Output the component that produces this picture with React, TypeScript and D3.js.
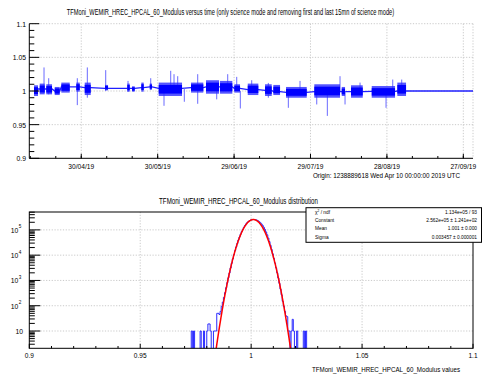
import React, { useLayoutEffect, useRef, useState } from "react";
import * as d3 from "d3";

const ORIGIN = Date.UTC(2019, 3, 10);
const DAY = 86400000;

// ---- Top graph: modulus versus time (days since origin) ----
const clusterStart = [1.45, 3.69, 6.28, 9.58, 12.17, 18.06, 21.36, 29.33, 38.08, 39.93, 43.58, 46.88, 50.41, 63.09, 68.98, 74.48, 80.09, 85.36, 92.15, 95.41, 100.39, 111.5, 122.26, 125.91, 134.04, 144.09];
const clusterEnd = [3.02, 5.65, 8.52, 11.54, 15.47, 19.4, 23.71, 30.51, 39.03, 40.99, 44.52, 47.78, 59.56, 67.92, 74.09, 79.31, 82.33, 89.52, 94.78, 98.04, 108.52, 121.59, 123.56, 130.51, 143.19, 147.51];
const clusterLow = [0.9926, 0.995, 0.995, 0.994, 0.9976, 0.999, 0.994, 1.001, 0.999, 0.999, 0.999, 1.002, 0.9926, 0.9976, 0.996, 0.996, 0.9976, 0.994, 0.9926, 0.994, 0.99, 0.99, 0.9926, 0.99, 0.99, 0.9926];
const clusterHigh = [1.0085, 1.011, 1.01, 1.006, 1.0125, 1.0125, 1.0125, 1.009, 1.011, 1.007, 1.0125, 1.011, 1.0125, 1.0125, 1.016, 1.015, 1.01, 1.011, 1.01, 1.009, 1.006, 1.01, 1.006, 1.0085, 1.0074, 1.0125];
const clusterLevel = [1.003, 1.003, 1.003, 1.0, 1.006, 1.006, 1.005, 1.004, 1.004, 1.004, 1.005, 1.006, 1.004, 1.005, 1.006, 1.006, 1.004, 1.002, 1.001, 0.999, 0.998, 0.999, 0.999, 0.999, 0.9995, 1.0];
const graphEndDay = 173.8;
const graphEndLevel = 1.0;

const spikeDay = [5.38, 7.22, 18.45, 22.38, 29.6, 38.36, 47.27, 52.49, 55.12, 56.42, 57.87, 60.46, 65.72, 73.18, 77.5, 81.04, 82.45, 86.92, 93.44, 101.3, 105.89, 112.45, 116.61, 121.59, 123.56, 129.45, 139.66, 142.29, 145.82];
const spikeLow = [0.997, 0.995, 0.979, 0.99, 1.0, 0.999, 1.002, 0.978, 1.0, 1.0, 1.0, 0.984, 0.981, 0.9876, 1.0, 1.0, 0.974, 1.0, 0.99, 0.975, 0.998, 0.98, 0.963, 1.0, 0.98, 1.0, 0.975, 1.0, 1.0];
const spikeHigh = [1.035, 1.019, 1.019, 1.035, 1.031, 1.015, 1.019, 1.004, 1.03, 1.025, 1.022, 1.004, 1.025, 1.005, 1.025, 1.021, 1.0, 1.016, 1.012, 1.0, 1.015, 1.0, 1.0, 1.022, 1.0, 1.0125, 1.0, 1.017, 1.017];

const timeMajorDates = ["2019-04-30", "2019-05-30", "2019-06-29", "2019-07-29", "2019-08-28", "2019-09-27"];
const topYTicks = [0.9, 0.95, 1, 1.05, 1.1];
const topYLabels = ["0.9", "0.95", "1", "1.05", "1.1"];

// ---- Bottom histogram ----
const histStart = 0.9725;
const histBinWidth = 0.0005;
const histCounts = [
  0, 10, 0, 10, 0, 0, 0, 0, 0, 10,
  0, 0, 10, 0, 0, 10, 19, 19, 10, 0,
  0, 10, 10, 10, 50, 50, 45, 60, 95, 140,
  215, 330, 520, 820, 1280, 1980, 3100, 4750, 7100, 10400,
  15000, 21000, 29000, 39500, 52000, 67000, 85000, 105000, 127000, 150000,
  173000, 195000, 214000, 231000, 243000, 252000, 256500, 257500, 255000, 249000,
  239000, 225000, 208000, 189000, 169000, 148000, 126000, 104000, 83000, 64000,
  47500, 34500, 24500, 16800, 11300, 7500, 4900, 3150, 2000, 1250,
  770, 455, 270, 150, 95, 60, 40, 37, 10, 10,
  0, 10, 29, 10, 0, 0, 10, 0, 0, 0,
  0, 0, 10, 0, 10,
];
const fitConstant = 2.562e5;
const fitMean = 1.001;
const fitSigma = 0.003457;

const histXTicks = [0.9, 0.95, 1, 1.05, 1.1];
const histXLabels = ["0.9", "0.95", "1", "1.05", "1.1"];
const histYDecades = [10, 100, 1000, 10000, 100000];
const histYExponents = ["", "2", "3", "4", "5"];

const statLabels = ["χ", "Constant", "Mean", "Sigma"];
const statValues = ["1.134e+05 / 93", "2.562e+05  ± 1.241e+02", "1.001 ± 0.000", "0.003457  ± 0.000001"];

const topTitle = "TFMoni_WEMIR_HREC_HPCAL_60_Modulus versus time (only science mode and removing first and last 15mn of science mode)";
const originText = "Origin: 1238889618  Wed Apr 10 00:00:00 2019 UTC";
const bottomTitle = "TFMoni_WEMIR_HREC_HPCAL_60_Modulus distribution";
const xAxisTitle = "TFMoni_WEMIR_HREC_HPCAL_60_Modulus values";

const FONT = "'Liberation Sans', Arial, Helvetica, sans-serif";
const GRID = "#bdbdbd";

function T({ x, y, s = 8, sx = 0.83, anchor = "middle", children, fill = "#000" }: any) {
  return (
    <text transform={`translate(${x},${y}) scale(${sx},1)`} fontSize={s} textAnchor={anchor} fontFamily={FONT} fill={fill}>
      {children}
    </text>
  );
}

// text squeezed horizontally to a target width
function FitText({ x, y, s, width, anchor, children }: any) {
  const ref = useRef<SVGTextElement>(null);
  const [sx, setSx] = useState(0.7);
  useLayoutEffect(() => {
    if (ref.current) {
      const w = ref.current.getComputedTextLength();
      if (w > 0) setSx(width / w);
    }
  }, [width, children]);
  return (
    <text ref={ref} transform={`translate(${x},${y}) scale(${sx},1)`} fontSize={s} textAnchor={anchor} fontFamily={FONT} fill="#000">
      {children}
    </text>
  );
}

export default function App() {
  const L = 29.3, R = 473;
  const tTop = 23.7, tBot = 158.3;
  const bTop = 212, bBot = 348.3;

  const dd = (d: number) => new Date(ORIGIN + d * DAY);
  const xT = d3.scaleUtc().domain([dd(-0.4), dd(173.8)]).range([L, R]);
  const yT = d3.scaleLinear().domain([0.9, 1.1]).range([tBot, tTop]);
  const fmt = d3.utcFormat("%d/%m/%y");

  const xH = d3.scaleLinear().domain([0.9, 1.1]).range([L, R]);
  const yH = d3.scaleLog().domain([2.07, 5.1e5]).range([bBot, bTop]);

  const basePts: [number, number][] = [];
  clusterStart.forEach((s, i) => {
    basePts.push([s, clusterLevel[i]]);
    basePts.push([clusterEnd[i], clusterLevel[i]]);
  });
  basePts.push([graphEndDay, graphEndLevel]);
  const baseLine = d3.line<[number, number]>().x((p) => xT(dd(p[0]))).y((p) => yT(p[1]))(basePts) || "";

  const minorDays = d3.range(0, 174, 10);
  const majorDates = timeMajorDates.map((s) => new Date(s + "T00:00:00Z"));
  const yMinorTop = d3.range(0.9, 1.1001, 0.01);

  const yClamp = (c: number) => (c < 2.07 ? bBot + 2 : yH(c));
  let hp = `M${xH(histStart)},${bBot + 2}`;
  histCounts.forEach((c, i) => {
    const e0 = histStart + i * histBinWidth;
    hp += `V${yClamp(c)}H${xH(e0 + histBinWidth)}`;
  });
  hp += `V${bBot + 2}`;

  const gauss = (v: number) => fitConstant * Math.exp(-((v - fitMean) ** 2) / (2 * fitSigma * fitSigma));
  const half = fitSigma * Math.sqrt(2 * Math.log(fitConstant / 2.07));
  const fitXs = d3.range(0, 301).map((k) => fitMean - half + (2 * half * k) / 300);
  const fitPath = d3.line<number>().x((v) => xH(v)).y((v) => yH(Math.max(2.07, gauss(v))))(fitXs) || "";

  const logMinor: number[] = [];
  for (let p = 0; p <= 5; p++) for (let m = 1; m <= 9; m++) {
    const v = m * Math.pow(10, p);
    if (v >= 2.07 && v <= 5.1e5) logMinor.push(v);
  }
  const histXMinor = d3.range(0.9, 1.1001, 0.01);
  const statY = [213.8, 222.1, 230.4, 238.8];

  return (
    <svg width={482} height={374} style={{ position: "absolute", left: 0, top: 0, background: "#fff" }} xmlns="http://www.w3.org/2000/svg">
      <rect x={0} y={0} width={482} height={374} fill="#fff" />
      <defs>
        <clipPath id="clipTop"><rect x={L} y={tTop} width={R - L} height={tBot - tTop} /></clipPath>
        <clipPath id="clipBot"><rect x={L} y={bTop} width={R - L} height={bBot - bTop} /></clipPath>
      </defs>

      {/* ===== TOP PLOT ===== */}
      <FitText x={230.5} y={15} s={8.3} width={327} anchor="middle">{topTitle}</FitText>
      {majorDates.map((d, i) => (
        <line key={"vg" + i} x1={xT(d)} x2={xT(d)} y1={tTop} y2={tBot} stroke={GRID} strokeWidth={0.8} strokeDasharray="1.2,1.6" />
      ))}
      <line x1={R} x2={R} y1={tTop} y2={tBot} stroke={GRID} strokeWidth={0.8} strokeDasharray="1.2,1.6" />
      {topYTicks.slice(1).map((v, i) => (
        <line key={"hg" + i} x1={L} x2={R} y1={yT(v)} y2={yT(v)} stroke={GRID} strokeWidth={0.8} strokeDasharray="1.2,1.6" />
      ))}
      <g clipPath="url(#clipTop)">
        <path d={baseLine} fill="none" stroke="#2020ff" strokeWidth={1.3} />
        {spikeDay.map((d, i) => (
          <line key={"sp" + i} x1={xT(dd(d))} x2={xT(dd(d))} y1={yT(spikeLow[i])} y2={yT(spikeHigh[i])} stroke="#6a6aff" strokeWidth={1} />
        ))}
        {clusterStart.map((s, i) => {
          const xa = xT(dd(s)), xb = xT(dd(clusterEnd[i]));
          const lo = clusterLow[i], hi = clusterHigh[i];
          const span = hi - lo;
          return (
            <g key={"cl" + i}>
              <rect x={xa} y={yT(hi)} width={Math.max(1, xb - xa)} height={yT(lo) - yT(hi)} fill="#2a2aff" opacity={0.8} />
              <rect x={xa} y={yT(hi - span * 0.18)} width={Math.max(1, xb - xa)} height={yT(lo + span * 0.18) - yT(hi - span * 0.18)} fill="#0000ff" />
            </g>
          );
        })}
      </g>
      <line x1={L} x2={L} y1={tTop} y2={tBot} stroke="#000" strokeWidth={1} />
      <line x1={L} x2={R} y1={tBot} y2={tBot} stroke="#000" strokeWidth={1} />
      {yMinorTop.map((v, i) => {
        const major = i % 5 === 0;
        return <line key={"yt" + i} x1={L} x2={L + (major ? 10 : 5)} y1={yT(v)} y2={yT(v)} stroke="#000" strokeWidth={1} />;
      })}
      {topYTicks.map((v, i) => (
        <T key={"yl" + i} x={26} y={yT(v) + 2.9} anchor="end" sx={0.85}>{topYLabels[i]}</T>
      ))}
      {minorDays.map((d) => (
        <line key={"xm" + d} x1={xT(dd(d))} x2={xT(dd(d))} y1={tBot} y2={tBot - 2.3} stroke="#000" strokeWidth={1} />
      ))}
      {majorDates.map((d, i) => (
        <g key={"xM" + i}>
          <line x1={xT(d)} x2={xT(d)} y1={tBot} y2={tBot - 4.5} stroke="#000" strokeWidth={1} />
          <T x={xT(d)} y={168.5}>{fmt(d)}</T>
        </g>
      ))}
      <FitText x={460} y={178} s={8} width={147} anchor="end">{originText}</FitText>

      {/* ===== BOTTOM PLOT ===== */}
      <FitText x={238.5} y={203.5} s={8.3} width={159} anchor="middle">{bottomTitle}</FitText>
      {histXTicks.slice(1, -1).map((v, i) => (
        <line key={"bvg" + i} x1={xH(v)} x2={xH(v)} y1={bTop} y2={bBot} stroke={GRID} strokeWidth={0.8} strokeDasharray="1.2,1.6" />
      ))}
      {histYDecades.map((v, i) => (
        <line key={"bhg" + i} x1={L} x2={R} y1={yH(v)} y2={yH(v)} stroke={GRID} strokeWidth={0.8} strokeDasharray="1.2,1.6" />
      ))}
      <g clipPath="url(#clipBot)">
        <path d={hp} fill="none" stroke="#2a2aff" strokeWidth={1} />
        <path d={fitPath} fill="none" stroke="#ff0000" strokeWidth={1.5} />
      </g>
      <rect x={L} y={bTop} width={R - L} height={bBot - bTop} fill="none" stroke="#000" strokeWidth={1} />
      {logMinor.map((v, i) => {
        const major = histYDecades.includes(v);
        return <line key={"ly" + i} x1={L} x2={L + (major ? 11 : 5.5)} y1={yH(v)} y2={yH(v)} stroke="#000" strokeWidth={1} />;
      })}
      {histYDecades.map((v, i) => (
        <g key={"lyl" + i}>
          <T x={histYExponents[i] ? 18.3 : 23} y={yH(v) + 2.9} anchor="end" sx={0.85}>10</T>
          {histYExponents[i] && <T x={18.8} y={yH(v) - 1.6} s={5.5} anchor="start" sx={0.85}>{histYExponents[i]}</T>}
        </g>
      ))}
      {histXMinor.map((v, i) => {
        const major = i % 5 === 0;
        return <line key={"hx" + i} x1={xH(v)} x2={xH(v)} y1={bBot} y2={bBot - (major ? 4.5 : 2.3)} stroke="#000" strokeWidth={1} />;
      })}
      {histXTicks.map((v, i) => (
        <T key={"hxl" + i} x={xH(v)} y={358} sx={0.82}>{histXLabels[i]}</T>
      ))}
      <FitText x={460} y={372} s={8} width={148} anchor="end">{xAxisTitle}</FitText>

      <rect x={306} y={207.7} width={175.5} height={34.6} fill="#fff" stroke="#000" strokeWidth={1} />
      {statLabels.map((s, i) => (
        <g key={"st" + i}>
          {i === 0 ? (
            <text transform={`translate(315,${statY[i]}) scale(0.8,1)`} fontSize={6} fontFamily={FONT}>
              χ<tspan fontSize={4} dy={-2}>2</tspan><tspan dy={2}> / ndf</tspan>
            </text>
          ) : (
            <T x={315} y={statY[i]} s={6} sx={0.8} anchor="start">{s}</T>
          )}
          <T x={477} y={statY[i]} s={6} sx={0.8} anchor="end">{statValues[i]}</T>
        </g>
      ))}
    </svg>
  );
}
